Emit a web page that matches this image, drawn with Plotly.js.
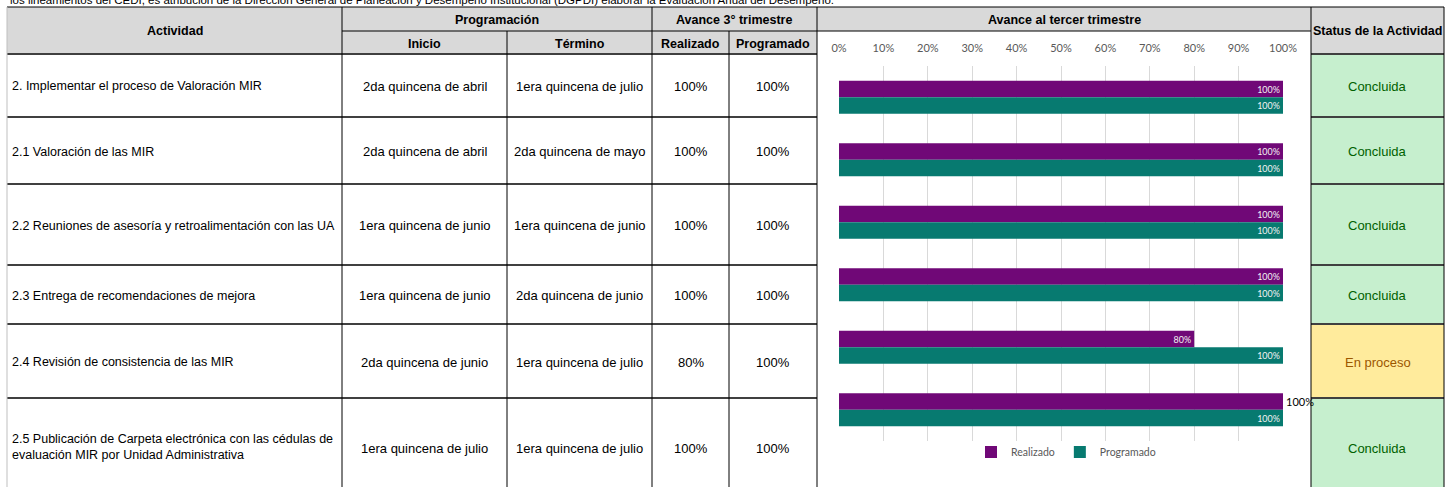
<!DOCTYPE html>
<html><head><meta charset="utf-8">
<script src="https://cdn.plot.ly/plotly-3.0.1.min.js"></script>
<style>html,body{margin:0;padding:0;background:#fff;}#chart{width:1454px;height:487px;}</style>
</head><body><div id="chart"></div>
<script>
// ---- data ----
const intro = "los lineamientos del CEDI, es atribución de la Dirección General de Planeación y Desempeño Institucional (DGPDI) elaborar la Evaluación Anual del Desempeño.";
const actividades = [
  "2. Implementar el proceso de Valoración MIR",
  "2.1 Valoración de las MIR",
  "2.2 Reuniones de asesoría y retroalimentación con las UA",
  "2.3 Entrega de recomendaciones de mejora",
  "2.4 Revisión de consistencia de las MIR",
  "2.5 Publicación de Carpeta electrónica con las cédulas de<br>evaluación MIR por Unidad Administrativa"
];
const claves = ["2", "2.1", "2.2", "2.3", "2.4", "2.5"];
const inicio = ["2da quincena de abril","2da quincena de abril","1era quincena de junio","1era quincena de junio","2da quincena de junio","1era quincena de julio"];
const termino = ["1era quincena de julio","2da quincena de mayo","1era quincena de junio","2da quincena de junio","1era quincena de julio","1era quincena de julio"];
const realizado = [1.00, 1.00, 1.00, 1.00, 0.80, 1.00];
const programado = [1.00, 1.00, 1.00, 1.00, 1.00, 1.00];
const status = ["Concluida","Concluida","Concluida","Concluida","En proceso","Concluida"];
const headers = {
  actividad: "Actividad", programacion: "Programación", inicio: "Inicio", termino: "Término",
  avance: "Avance 3° trimestre", realizado: "Realizado", programado: "Programado",
  chart: "Avance al tercer trimestre", status: "Status de la Actividad"
};
const seriesNames = ["Realizado", "Programado"];

// ---- layout geometry (pixels) ----
const W = 1454, H = 487;
const colX = [7, 342, 507, 652, 729, 817, 1311, 1444];
const hdrTop = 7, hdrMid = 31, hdrBot = 54;
const rowY = [54, 117, 184, 265, 324, 398, 497];
const px = x => x / W;
const py = y => 1 - y / H;

const FONT = "'Liberation Sans', Arial, sans-serif";
const CFONT = "Lato, Carlito, Calibri, 'Open Sans', sans-serif";
const pct = v => Math.round(v * 100) + "%";

const shapes = [];
const ann = [];
function rect(x0, y0, x1, y1, fill) {
  shapes.push({type: "rect", xref: "paper", yref: "paper", x0: px(x0), x1: px(x1), y0: py(y1), y1: py(y0),
    fillcolor: fill, line: {width: 0}, layer: "below"});
}
function line(x0, y0, x1, y1, color, w) {
  shapes.push({type: "line", xref: "paper", yref: "paper", x0: px(x0), x1: px(x1), y0: py(y0), y1: py(y1),
    line: {color: color, width: w}, layer: "above"});
}
function text(t, x, y, opts) {
  opts = opts || {};
  ann.push({text: t, x: px(x), y: py(y), xref: "paper", yref: "paper", showarrow: false,
    xanchor: opts.xanchor || "center", yanchor: "middle", align: opts.align || "center",
    font: {family: opts.family || FONT, size: opts.size || 13, color: opts.color || "#000"}});
}
const bold = s => "<b>" + s + "</b>";

// header backgrounds
rect(colX[0], hdrTop, colX[5], hdrBot, "#d9d9d9");
rect(colX[5], hdrTop, colX[6], hdrMid, "#d9d9d9");
rect(colX[6], hdrTop, colX[7], hdrBot, "#d9d9d9");
// status backgrounds
status.forEach((s, i) => {
  rect(colX[6], rowY[i], colX[7], rowY[i + 1], s === "Concluida" ? "#c6efce" : "#ffeb9c");
});

// intro text (cut at the top, as in the source)
text(intro, 8, 0, {xanchor: "left", size: 11.5});

// header texts
const HS = 12.5;
const hmid = (hdrTop + hdrBot) / 2, h1 = (hdrTop + hdrMid) / 2 + 1, h2 = (hdrMid + hdrBot) / 2 + 1;
text(bold(headers.actividad), (colX[0] + colX[1]) / 2, hmid + 1, {size: HS});
text(bold(headers.programacion), (colX[1] + colX[3]) / 2, h1, {size: HS});
text(bold(headers.avance), (colX[3] + colX[5]) / 2, h1, {size: HS});
text(bold(headers.inicio), (colX[1] + colX[2]) / 2, h2, {size: HS});
text(bold(headers.termino), (colX[2] + colX[3]) / 2, h2, {size: HS});
text(bold(headers.realizado), (colX[3] + colX[4]) / 2, h2, {size: HS});
text(bold(headers.programado), (colX[4] + colX[5]) / 2, h2, {size: HS});
text(bold(headers.chart), (colX[5] + colX[6]) / 2, h1, {size: HS});
text(bold(headers.status), (colX[6] + colX[7]) / 2, hmid + 1, {size: HS});

// body texts
actividades.forEach((a, i) => {
  const cy = (rowY[i] + rowY[i + 1]) / 2 + 1;
  text(a, 10, i === 5 ? 447 : cy, {xanchor: "left", align: "left", size: 12.5});
  text(inicio[i], (colX[1] + colX[2]) / 2, cy);
  text(termino[i], (colX[2] + colX[3]) / 2, cy);
  text(pct(realizado[i]), (colX[3] + colX[4]) / 2, cy);
  text(pct(programado[i]), (colX[4] + colX[5]) / 2, cy);
  text(status[i], (colX[6] + colX[7]) / 2, cy,
    {color: status[i] === "Concluida" ? "#006100" : "#9c5700"});
});

// grid lines of the table
line(colX[0], hdrTop, colX[7], hdrTop, "#000", 1);
line(colX[1], hdrMid, colX[6], hdrMid, "#000", 1);
line(colX[0], hdrBot, colX[5], hdrBot, "#404040", 2);
line(colX[6], hdrBot, colX[7], hdrBot, "#404040", 2);
for (let i = 1; i < rowY.length - 1; i++) {
  line(colX[0], rowY[i], colX[5], rowY[i], "#404040", 2);
  line(colX[6], rowY[i], colX[7], rowY[i], "#404040", 2);
}
line(colX[0], hdrTop, colX[0], H, "#bfbfbf", 1);
line(colX[1], hdrTop, colX[1], H, "#000", 1);
line(colX[2], hdrMid, colX[2], H, "#000", 1);
line(colX[3], hdrTop, colX[3], H, "#000", 1);
line(colX[4], hdrMid, colX[4], H, "#000", 1);
line(colX[5], hdrTop, colX[5], H, "#000", 1);
line(colX[6], hdrTop, colX[6], H, "#000", 1);
line(colX[7], hdrTop, colX[7], H, "#000", 1);

// ---- bar traces ----
const txtPos = realizado.map((v, i) => i === realizado.length - 1 ? "outside" : "inside");
const traces = [
  {type: "bar", orientation: "h", name: seriesNames[0], y: claves, x: realizado,
   marker: {color: "#700877", line: {width: 0}},
   texttemplate: "%{x:.0%}", textposition: txtPos, insidetextanchor: "end",
   insidetextfont: {family: CFONT, size: 11, color: "#f2f2f2"},
   outsidetextfont: {family: CFONT, size: 11, color: "#000"},
   cliponaxis: false, hoverinfo: "skip"},
  {type: "bar", orientation: "h", name: seriesNames[1], y: claves, x: programado,
   marker: {color: "#077a70", line: {width: 0}},
   texttemplate: "%{x:.0%}", textposition: "inside", insidetextanchor: "end",
   insidetextfont: {family: CFONT, size: 11, color: "#f2f2f2"},
   cliponaxis: false, hoverinfo: "skip"}
];

const layout = {
  width: W, height: H, autosize: false,
  margin: {l: 0, r: 0, t: 0, b: 0, pad: 0},
  paper_bgcolor: "#fff", plot_bgcolor: "rgba(0,0,0,0)",
  barmode: "group", bargap: 0.47, bargroupgap: 0,
  showlegend: true,
  legend: {orientation: "h", x: px(1066), xanchor: "center", y: py(452), yanchor: "middle",
    itemwidth: 30, font: {family: CFONT, size: 10.5, color: "#595959"}, bgcolor: "rgba(0,0,0,0)", traceorder: "normal"},
  xaxis: {domain: [px(839), px(1283)], range: [0, 1], side: "top", tickformat: ".0%", dtick: 0.1, tick0: 0,
    showgrid: true, gridcolor: "#d9d9d9", gridwidth: 1, zeroline: false, showline: false, ticks: "",
    ticklabelstandoff: 11, tickfont: {family: CFONT, size: 11, color: "#595959"}, fixedrange: true},
  yaxis: {domain: [py(441), py(66)], autorange: "reversed", type: "category",
    showticklabels: false, showgrid: false, zeroline: false, showline: false, ticks: "", fixedrange: true},
  shapes: shapes, annotations: ann
};

Plotly.newPlot("chart", traces, layout, {displayModeBar: false, staticPlot: true});
</script></body></html>
